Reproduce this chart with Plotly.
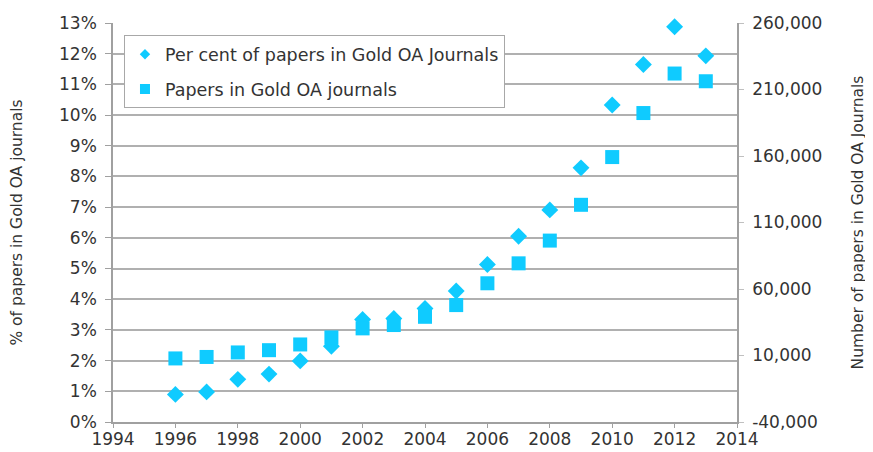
import plotly.graph_objects as go

years = [1996, 1997, 1998, 1999, 2000, 2001, 2002, 2003, 2004, 2005,
         2006, 2007, 2008, 2009, 2010, 2011, 2012, 2013]
pct_gold = [0.90, 0.98, 1.39, 1.56, 1.99, 2.47, 3.34, 3.37, 3.70, 4.27,
            5.13, 6.05, 6.91, 8.28, 10.33, 11.65, 12.88, 11.93]
papers_gold = [7800, 8900, 12300, 14000, 18300, 23600, 30400, 32900, 39100, 47900,
               64300, 79300, 96400, 123300, 159200, 192300, 222000, 216200]

right_ticks = [-40000, 10000, 60000, 110000, 160000, 210000, 260000]
right_labels = [f"{v:,}" for v in right_ticks]

name_pct = "Per cent of papers in Gold OA Journals"
name_papers = "Papers in Gold OA journals"

color = "#0fcbff"
font = "DejaVu Sans"
txt = "#333333"
grid = "#b0b0b0"
axc = "#a0a0a0"

fig = go.Figure()
fig.add_trace(go.Scatter(
    x=years, y=pct_gold, mode="markers", name=name_pct, showlegend=False,
    cliponaxis=False,
    marker=dict(symbol="diamond", size=13, color=color), yaxis="y"))
fig.add_trace(go.Scatter(
    x=years, y=papers_gold, mode="markers", name=name_papers, showlegend=False,
    cliponaxis=False,
    marker=dict(symbol="square", size=14, color=color), yaxis="y2"))
# legend entries with small symbols (no data)
fig.add_trace(go.Scatter(
    x=[None], y=[None], mode="markers", name=name_pct, legendgroup="a",
    marker=dict(symbol="diamond", size=8, color=color)))
fig.add_trace(go.Scatter(
    x=[None], y=[None], mode="markers", name=name_papers, legendgroup="b",
    marker=dict(symbol="square", size=10, color=color)))

# the page body has an 8px margin, so the figure is drawn 8px in from the top-left
fig.update_layout(
    width=865, height=444,
    margin=dict(l=105, r=136, t=15, b=30),
    paper_bgcolor="white", plot_bgcolor="white",
    font=dict(family=font, size=17, color=txt),
    showlegend=True,
    legend=dict(x=0.0176, y=0.969, xanchor="left", yanchor="top",
                bordercolor="#a8a8a8", borderwidth=1, bgcolor="white",
                font=dict(size=17.5, color=txt), itemsizing="trace",
                traceorder="grouped", tracegroupgap=9, itemwidth=30),
    xaxis=dict(range=[1994, 2014], dtick=2, tick0=1994, showgrid=False, zeroline=False,
               showline=True, linecolor=axc, linewidth=1.5, automargin=False,
               ticks="outside", ticklen=4, tickcolor=axc, ticklabelstandoff=-3,
               tickfont=dict(size=17, color=txt)),
    yaxis=dict(range=[0, 13], dtick=1, tick0=0, ticksuffix="%", automargin=False,
               showgrid=True, gridcolor=grid, gridwidth=1.5, zeroline=False,
               showline=True, linecolor=axc, linewidth=1.5,
               ticks="outside", ticklen=6, tickcolor=axc,
               tickfont=dict(size=17, color=txt), ticklabelstandoff=5,
               title=dict(text="% of papers in Gold OA journals", standoff=34,
                          font=dict(size=15.5, color=txt))),
    yaxis2=dict(range=[-40000, 260000], overlaying="y", side="right", automargin=False,
                tickvals=right_ticks, ticktext=right_labels,
                showgrid=False, zeroline=False,
                showline=True, linecolor=axc, linewidth=1.5,
                ticks="outside", ticklen=5, tickcolor="#c0c0c0",
                tickfont=dict(size=17, color=txt), ticklabelstandoff=5,
                title=dict(text="Number of papers in Gold OA Journals", standoff=31,
                           font=dict(size=15.5, color=txt))),
)

fig.write_html("out.html")
